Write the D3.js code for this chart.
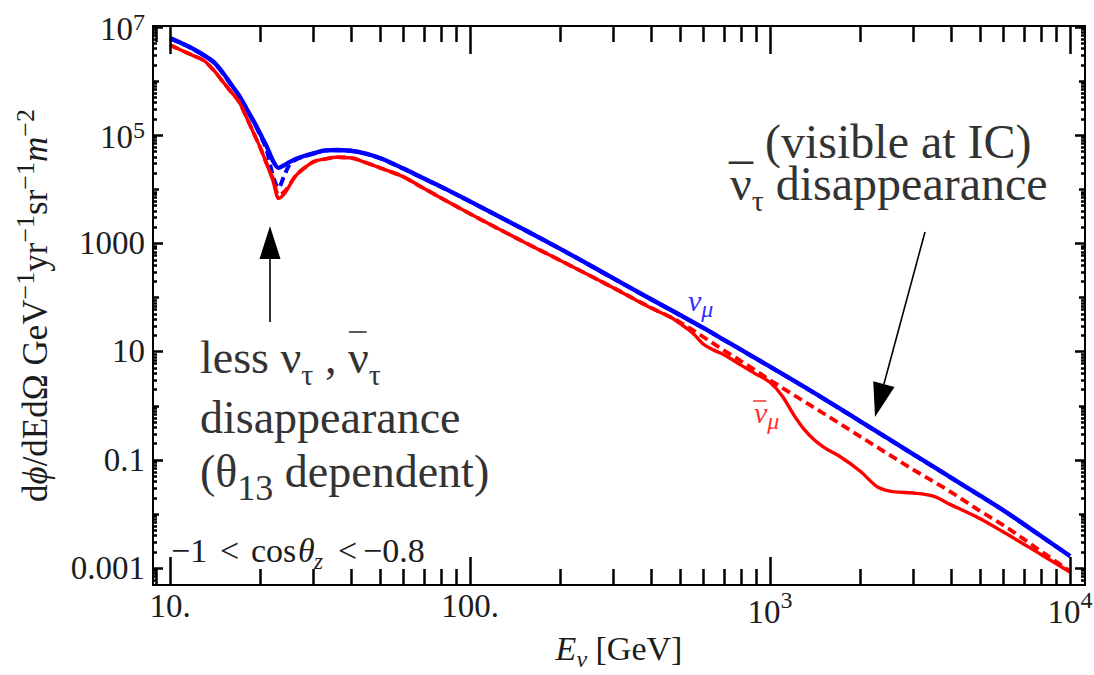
<!DOCTYPE html>
<html><head><meta charset="utf-8">
<script src="https://cdn.jsdelivr.net/npm/d3@7"></script>
<style>body{margin:0;background:#fff;} svg{display:block;}</style>
</head><body>
<svg id="chart" width="1094" height="675"></svg>
<script>
// ---------------- data ----------------
const numuEnergy = [10,11,12,13,14,15,16,17,18,19,20,21,22,23,24,25,26,28,30,33,36,40,45,50,60,70,80,100,150,200,300,400,500,600,700,800,1000,1500,2000,3000,4000,5000,6000,8000,10000];
const numuSolid  = [6.18e6,4.87e6,3.84e6,2.95e6,2.21e6,1.41e6,8.52e5,5.31e5,3.05e5,1.80e5,1.04e5,6.15e4,3.40e4,2.47e4,2.75e4,3.14e4,3.52e4,4.09e4,4.55e4,5.19e4,5.27e4,5.12e4,4.51e4,3.75e4,2.39e4,1.58e4,1.11e4,5920,1840,788,226,93.2,47.6,27.2,16.6,10.8,5.26,1.38,0.513,0.127,0.0472,0.0219,0.01164,0.0039,0.001666];
const numuDashed = [6.10e6,4.82e6,3.80e6,2.92e6,2.18e6,1.39e6,8.40e5,5.22e5,2.98e5,1.74e5,9.80e4,5.27e4,1.82e4,1.05e4,1.75e4,2.79e4,3.38e4,4.02e4,4.50e4,5.15e4,5.24e4,5.09e4,4.48e4,3.73e4,2.38e4,1.57e4,1.10e4,5880,1830,784,225,92.8,47.3,27.0,16.5,10.7,5.22,1.37,0.510,0.126,0.0470,0.0218,0.01160,0.00388,0.00166];

const nubarEnergy = [10,11,12,13,14,15,16,17,18,19,20,21,22,23,24,25,26,28,30,33,36,40,45,50,60,70,80,100,150,200,300,400,430,470,500,550,600,650,700,800,900,1000,1100,1200,1300,1400,1500,1700,2000,2300,2600,3000,3500,4000,5000,6000,8000,10000];
const nubarSolid  = [4.59e6,3.60e6,2.89e6,2.35e6,1.56e6,9.68e5,6.19e5,4.08e5,2.10e5,1.09e5,5.79e4,2.93e4,1.47e4,6.73e3,8.08e3,1.15e4,1.65e4,2.44e4,3.17e4,3.61e4,3.88e4,3.77e4,3.07e4,2.48e4,1.68e4,1.04e4,6.87e3,3500,1080,481,151,64.1,53.0,42.0,33.0,22.5,13.6,10.6,8.80,5.60,3.78,2.70,1.49,0.676,0.363,0.236,0.175,0.117,0.0612,0.0306,0.0255,0.0243,0.0213,0.0148,0.00825,0.00462,0.00178,0.000843];

const nubarDashEnergy = [10,11,12,13,14,15,16,17,18,19,20,21,22,23,24,25,26,28,30,33,36,40,45,50,60,70,80,100,150,200,300,400,500,600,700,800,1000,1200,1500,2000,3000,4000,5000,6000,8000,10000];
const nubarDashed = [4.59e6,3.60e6,2.89e6,2.35e6,1.56e6,9.68e5,6.19e5,4.08e5,2.10e5,1.09e5,5.79e4,2.93e4,1.60e4,7.78e3,8.84e3,1.19e4,1.65e4,2.44e4,3.17e4,3.61e4,3.88e4,3.77e4,3.07e4,2.48e4,1.68e4,1.04e4,6.87e3,3500,1080,481,151,64.9,35.0,18.5,10.6,6.67,2.97,1.57,0.730,0.268,0.0660,0.0255,0.0114,0.00615,0.00205,0.00088];

const xMajorTicks  = [10,100,1000,10000];
const xMajorLabels = ["10.","100.","10^3","10^4"];
const xMinorTicks  = [9,20,30,40,50,60,70,80,90,200,300,400,500,600,700,800,900,2000,3000,4000,5000,6000,7000,8000,9000];
const yMajorTicks  = [1e7,1e5,1e3,10,0.1,0.001];
const yMajorLabels = ["10^7","10^5","1000","10","0.1","0.001"];
const yMidTicks    = [1e6,1e4,100,1,0.01];
const yMinorTicks  = [];
[-4,-3,-2,-1,0,1,2,3,4,5,6].forEach(n=>[2,3,4,5,6,7,8,9].forEach(k=>{const v=k*Math.pow(10,n); if(v>5e-4 && v<1e7) yMinorTicks.push(v);}));

// ---------------- layout ----------------
const FONT = "'Liberation Serif','Times New Roman',serif";
const frame = {left:153, right:1085, top:26, bottom:585};
const svg = d3.select("#chart").attr("font-family", FONT);
svg.append("rect").attr("width",1094).attr("height",675).attr("fill","#fff");

const x = d3.scaleLog().domain([10,1e4]).range([170,1070]);
const y = d3.scaleLog().domain([1e-3,1e7]).range([568,26.7]);

// rich text helper
function rich(parent, segs, opts) {
  opts = opts || {};
  const g = parent.append("g");
  let cx = 0;
  segs.forEach(s => {
    if (s.x !== undefined) cx = s.x;
    const t = g.append("text")
      .attr("x", cx)
      .attr("y", s.dy || 0)
      .attr("font-size", s.size)
      .attr("fill", opts.fill || "#1c1c1c")
      .attr("font-style", s.italic ? "italic" : null)
      .style("white-space","pre")
      .text(s.t);
    const w = t.node().getComputedTextLength();
    if (s.over) {
      g.append("line").attr("x1", cx + s.over[0]).attr("x2", cx + w + s.over[1])
        .attr("y1", s.over[2]).attr("y2", s.over[2])
        .attr("stroke", opts.fill || "#1c1c1c").attr("stroke-width", s.over[3] || 1.6);
    }
    cx += w;
  });
  let shift = 0;
  if (opts.anchor === "middle") shift = -cx/2;
  if (opts.anchor === "end") shift = -cx;
  if (opts.rotate) g.attr("transform", `translate(${opts.x},${opts.y}) rotate(${opts.rotate}) translate(${shift},0)`);
  else g.attr("transform", `translate(${opts.x + shift},${opts.y})`);
  return cx;
}
function labelSegs(lbl, size, supSize, raise) {
  if (lbl.indexOf("^") >= 0) {
    const p = lbl.split("^");
    return [{t:p[0], size:size}, {t:p[1], size:supSize, dy:-raise}];
  }
  return [{t:lbl, size:size}];
}

// ---------------- curves ----------------
const plot = svg.append("g");
const line = d3.line().x(d=>x(d[0])).y(d=>y(d[1])).curve(d3.curveMonotoneX);
function draw(E, V, color, width, dash) {
  plot.append("path").datum(E.map((e,i)=>[e,V[i]]))
    .attr("d", line).attr("fill","none").attr("stroke",color)
    .attr("stroke-width",width).attr("stroke-dasharray",dash||null)
    .attr("stroke-linejoin","round");
}
draw(numuEnergy, numuSolid, "#0000ff", 4.4);
draw(numuEnergy, numuDashed, "#0000ff", 4.0, "9,5");
draw(nubarEnergy, nubarSolid, "#ff0000", 3.4);
draw(nubarDashEnergy, nubarDashed, "#ff0000", 3.8, "9,5");

// ---------------- frame & ticks (positions from the scales) ----------------
let tickPath = "";
function xTicks(vals, len) {
  vals.forEach(v => {
    const px = Math.round(x(v)) + 0.5;
    tickPath += `M${px},${frame.bottom}V${frame.bottom-len}M${px},${frame.top}V${frame.top+len}`;
  });
}
function yTicks(vals, len) {
  vals.forEach(v => {
    const py = Math.round(y(v)) + 0.5;
    tickPath += `M${frame.left},${py}H${frame.left+len}M${frame.right},${py}H${frame.right-len}`;
  });
}
xTicks(xMajorTicks, 28);
xTicks(xMinorTicks, 16);
yTicks(yMajorTicks, 10);
yTicks(yMidTicks, 6);
yTicks(yMinorTicks, 4);
svg.append("path").attr("d", tickPath).attr("fill","none").attr("stroke","#000").attr("stroke-width",2.5);
svg.append("rect").attr("x",frame.left).attr("y",frame.top)
  .attr("width",frame.right-frame.left).attr("height",frame.bottom-frame.top)
  .attr("fill","none").attr("stroke","#000").attr("stroke-width",2);

// tick labels
xMajorTicks.forEach((v,i)=>{
  const lbl = xMajorLabels[i];
  const sup = lbl.indexOf("^")>=0;
  rich(svg, labelSegs(lbl, 33, 24, 15), {x:x(v), y: sup?623:617, anchor:"middle"});
});
yMajorTicks.forEach((v,i)=>{
  const lbl = yMajorLabels[i];
  const sup = lbl.indexOf("^")>=0;
  rich(svg, labelSegs(lbl, 33, 24, 10), {x:145, y:y(v)+(sup?13:11), anchor:"end"});
});

// axis titles
rich(svg, [{t:"E",size:34,italic:true},{t:"ν",size:24,italic:true,dy:7},{t:" [GeV]",size:34}],
  {x:(frame.left+frame.right)/2, y:660, anchor:"middle"});
rich(svg, [{t:"d",size:35},{t:"ϕ",size:35,italic:true},{t:"/dEdΩ GeV",size:35},{t:"−1",size:26,dy:-13},
  {t:"yr",size:35},{t:"−1",size:26,dy:-13},{t:"sr",size:35},{t:"−1",size:26,dy:-13},
  {t:"m",size:35,italic:true},{t:"−2",size:26,dy:-13}],
  {x:47, y:(frame.top+frame.bottom)/2, rotate:-90, anchor:"middle"});

// series labels
rich(svg, [{t:"ν",size:30,italic:true},{t:"μ",size:24,italic:true,dy:6}], {x:688, y:311, fill:"#2f2fff"});
rich(svg, [{t:"ν",size:30,italic:true,over:[-1,-1,-22,1.5]},{t:"μ",size:24,italic:true,dy:6}], {x:754, y:423, fill:"#ff3030"});

// zenith range label
rich(svg, [{t:"−1",size:34,x:0},{t:"<",size:34,x:49},{t:"cos",size:34,x:80},{t:"θ",size:34,italic:true,x:127},
  {t:"z",size:23,italic:true,dy:7,x:143},{t:"<",size:34,x:167},{t:"−0.8",size:34,x:192}], {x:171, y:562});

// ---------------- annotations ----------------
const ann = "#333333";
rich(svg, [{t:"less ",size:46},{t:"ν",size:46},{t:"τ",size:30,dy:12},{t:" , ",size:46},
  {t:"ν",size:46,over:[1,-2,-41,1.6]},{t:"τ",size:30,dy:12}], {x:200, y:373, fill:ann});
rich(svg, [{t:"disappearance",size:46}], {x:200, y:433, fill:ann});
rich(svg, [{t:"(θ",size:46},{t:"13",size:36,dy:13},{t:" dependent)",size:46}], {x:200, y:487, fill:ann});

rich(svg, [{t:"_ (visible at IC)",size:48}], {x:729, y:158, fill:ann});
rich(svg, [{t:"ν",size:48},{t:"τ",size:30,dy:11},{t:" disappearance",size:48}], {x:730, y:200, fill:ann});

// arrows
function arrow(x1,y1,x2,y2,len,half){
  const dx=x2-x1, dy=y2-y1, L=Math.hypot(dx,dy), ux=dx/L, uy=dy/L;
  const bx=x2-ux*len, by=y2-uy*len;
  svg.append("line").attr("x1",x1).attr("y1",y1).attr("x2",bx).attr("y2",by)
    .attr("stroke","#000").attr("stroke-width",1.6);
  svg.append("path").attr("d",`M${x2},${y2}L${bx-uy*half},${by+ux*half}L${bx+uy*half},${by-ux*half}Z`).attr("fill","#000");
}
arrow(270,322,270,226,33,10.5);
arrow(925,232,875,417,34,11);
</script>
</body></html>
